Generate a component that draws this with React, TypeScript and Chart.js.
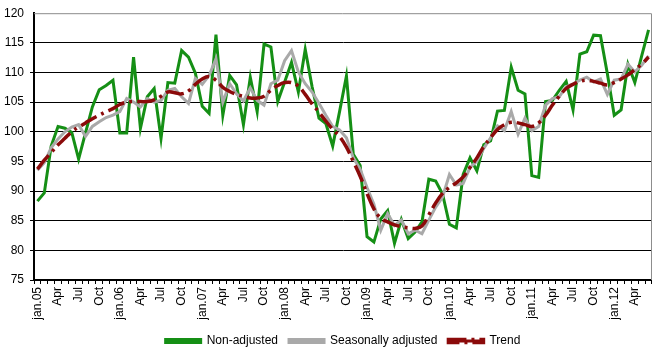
import React, { useEffect, useRef } from "react";
import { Chart, registerables } from "chart.js";

Chart.register(...registerables);

const years = ["05", "06", "07", "08", "09", "10", "11", "12"];
const monthNames = ["jan", "Feb", "Mar", "Apr", "May", "Jun", "Jul", "Aug", "Sep", "Oct", "Nov", "Dec"];
const monthCount = 90;

const nonAdjusted = [
  88.3, 89.7, 97.6, 100.9, 100.6, 99.9, 95.4, 99.8, 104.2, 107.1, 107.8, 108.7,
  99.8, 99.8, 112.6, 100.6, 105.9, 107.3, 98.9, 108.3, 108.2, 113.7, 112.6, 109.9,
  104.3, 103.1, 116.4, 102.8, 109.5, 107.9, 101.2, 109.2, 103.4, 114.8, 114.3, 105.1,
  108.4, 111.7, 106.7, 113.9, 107.6, 102.3, 101.4, 97.6, 103.4, 109.4, 96.2, 94.3,
  82.3, 81.4, 85.3, 86.7, 81.2, 85.2, 82.0, 83.1, 84.8, 92.0, 91.7, 89.5,
  84.4, 83.8, 92.8, 95.6, 93.4, 97.8, 98.5, 103.5, 103.6, 110.9, 107.0, 106.4,
  92.6, 92.3, 105.1, 105.3, 107.0, 108.5, 103.7, 113.1, 113.5, 116.3, 116.2, 109.8,
  102.8, 103.7, 111.4, 108.3, 112.8, 117.2,
];

const seasonallyAdjusted = [
  93.5, 94.8, 97.3, 98.8, 100.0, 100.8, 101.2, 99.2, 100.9, 101.7, 102.4, 102.8,
  103.4, 105.6, 105.0, 104.2, 105.6, 105.0, 105.3, 107.0, 107.3, 105.9, 104.8, 109.0,
  108.0, 109.5, 112.3, 105.0, 108.1, 106.4, 105.2, 107.4, 105.3, 104.5, 108.1, 108.7,
  112.0, 113.7, 110.1, 108.1, 106.7, 104.8, 102.8, 100.9, 100.3, 99.0, 95.6, 93.7,
  90.6, 87.8, 83.4, 86.2, 84.2, 85.1, 82.8, 83.4, 82.8, 85.1, 87.3, 89.0,
  92.8, 91.0, 91.3, 94.0, 95.0, 97.2, 99.0, 101.0, 100.2, 103.4, 99.6, 102.3,
  100.2, 100.9, 104.5, 105.6, 105.9, 107.6, 108.1, 108.7, 109.2, 108.4, 108.9, 106.3,
  108.7, 108.9, 111.4, 110.1, 111.2, 112.8,
];

const trend = [
  93.7, 95.2, 96.5, 97.8, 98.9, 100.0, 100.8, 101.5, 102.2, 102.8, 103.4, 103.9,
  104.6, 105.0, 105.1, 105.1, 105.1, 105.4, 106.0, 106.7, 106.6, 106.4, 106.9, 108.0,
  108.9, 109.3, 108.7, 107.5, 106.8, 106.3, 106.0, 105.7, 105.7, 106.0, 107.0, 107.8,
  108.3, 108.3, 107.7, 106.3, 104.7, 103.3, 101.8, 100.4, 99.2, 97.4, 95.0, 92.5,
  89.6, 87.0, 85.4, 84.8, 84.3, 84.0, 83.8, 83.7, 84.1, 86.0, 88.0, 89.6,
  90.6, 91.4, 92.4, 94.0, 95.6, 97.5, 99.0, 100.4, 101.2, 101.6, 101.5, 101.2,
  100.9, 101.5, 102.8, 104.5, 106.0, 107.3, 108.0, 108.5, 108.7, 108.5, 108.2, 107.9,
  108.3, 108.9, 109.6, 110.5, 111.4, 112.6,
];

const seriesNames = ["Non-adjusted", "Seasonally adjusted", "Trend"];
const yMin = 75;
const yMax = 120;
const yStep = 5;

const categories: string[] = [];
for (const yy of years) {
  for (let m = 0; m < 12; m++) {
    if (categories.length < monthCount) categories.push(`${monthNames[m]}.${yy}`);
  }
}

function tickLabel(index: number): string {
  const m = index % 12;
  if (m % 3 !== 0) return "";
  if (m === 0) return categories[index];
  return monthNames[m];
}

const borderPlugin = {
  id: "plotBorder",
  beforeDatasetsDraw(chart: any) {
    const { ctx, chartArea } = chart;
    ctx.save();
    ctx.strokeStyle = "#8c8c8c";
    ctx.lineWidth = 1;
    ctx.beginPath();
    ctx.moveTo(chartArea.left, chartArea.top + 0.5);
    ctx.lineTo(chartArea.right - 0.5, chartArea.top + 0.5);
    ctx.lineTo(chartArea.right - 0.5, chartArea.bottom);
    ctx.stroke();
    ctx.restore();
  },
};

export default function App() {
  const canvasRef = useRef<HTMLCanvasElement | null>(null);

  useEffect(() => {
    if (!canvasRef.current) return;
    Chart.defaults.font.family = "'Liberation Sans', Arial, sans-serif";
    Chart.defaults.color = "#000";
    const chart = new Chart(canvasRef.current, {
      type: "line",
      data: {
        labels: categories,
        datasets: [
          {
            label: seriesNames[0],
            data: nonAdjusted,
            borderColor: "#158f15",
            backgroundColor: "#158f15",
            borderWidth: 3,
            pointRadius: 0,
            tension: 0,
            order: 2,
          },
          {
            label: seriesNames[1],
            data: seasonallyAdjusted,
            borderColor: "#a9a9a9",
            backgroundColor: "#a9a9a9",
            borderWidth: 3,
            pointRadius: 0,
            tension: 0,
            order: 1,
          },
          {
            label: seriesNames[2],
            data: trend,
            borderColor: "#8b0a0a",
            backgroundColor: "#8b0a0a",
            borderWidth: 3.5,
            borderDash: [18, 5, 3, 5],
            pointRadius: 0,
            tension: 0.4,
            order: 0,
          },
        ],
      },
      options: {
        responsive: false,
        animation: false,
        devicePixelRatio: 1,
        layout: { padding: { left: 0, right: 7, top: 9, bottom: -5 } },
        plugins: {
          tooltip: { enabled: false },
          legend: {
            position: "bottom",
            fullSize: false,
            labels: {
              boxWidth: 35,
              boxHeight: 3,
              padding: 11,
              font: { size: 12 },
              color: "#000",
              sort: (a: any, b: any) => a.datasetIndex - b.datasetIndex,
            },
          },
        },
        scales: {
          x: {
            type: "category",
            offset: true,
            afterFit: (scale: any) => {
              scale.height = 44;
            },
            grid: {
              display: true,
              drawOnChartArea: false,
              drawTicks: true,
              tickLength: 4,
              color: "#000",
              offset: true,
            },
            border: { display: true, color: "#000", width: 2 },
            ticks: {
              autoSkip: false,
              minRotation: 90,
              maxRotation: 90,
              padding: 3,
              font: { size: 12 },
              color: "#000",
              callback: (_v: any, index: number) => tickLabel(index),
            },
          },
          y: {
            min: yMin,
            max: yMax,
            afterFit: (scale: any) => {
              scale.width = 34;
            },
            grid: {
              color: (ctx: any) => (ctx.tick && ctx.tick.value === yMax ? "rgba(0,0,0,0)" : "#000"),
              lineWidth: 1,
              drawTicks: true,
              tickLength: 4,
            },
            border: { display: true, color: "#000", width: 2 },
            ticks: {
              stepSize: yStep,
              padding: 6,
              font: { size: 12 },
              color: "#000",
            },
          },
        },
      },
      plugins: [borderPlugin],
    });
    return () => chart.destroy();
  }, []);

  return (
    <div style={{ position: "absolute", left: 0, top: 0, width: 666, height: 352, background: "#fff" }}>
      <canvas ref={canvasRef} width={666} height={352} />
    </div>
  );
}
